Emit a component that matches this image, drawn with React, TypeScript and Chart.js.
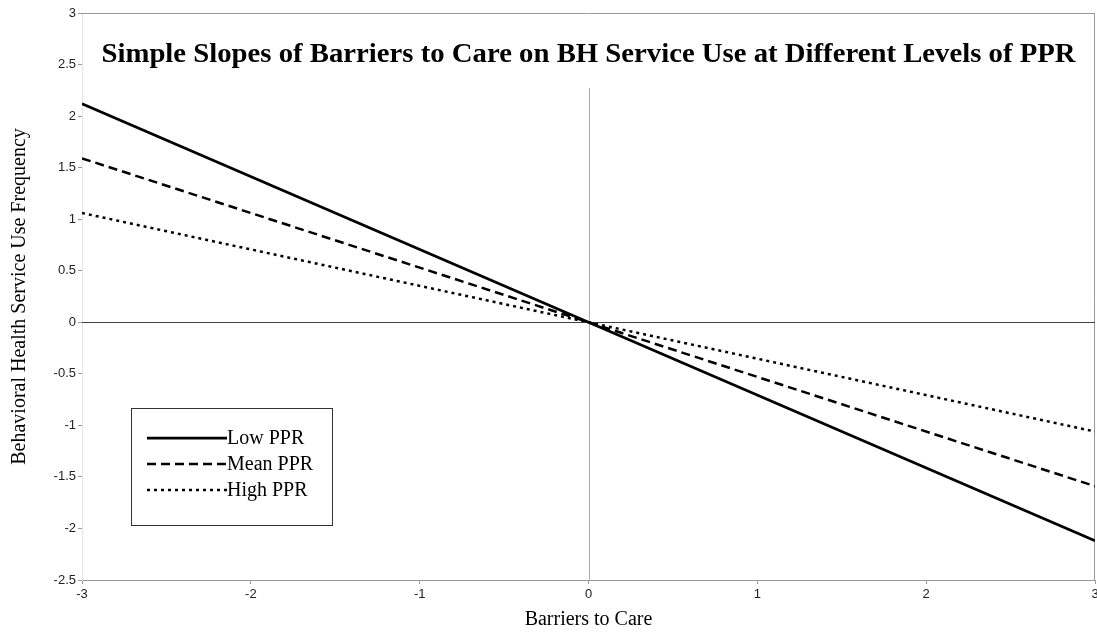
import React, { useEffect, useRef } from "react";
import { Chart, registerables } from "chart.js";

Chart.register(...registerables);

// ---- data ----
const barriersToCare = [-3, 0, 3];
const lowPPR = [2.12, 0, -2.12];
const meanPPR = [1.59, 0, -1.59];
const highPPR = [1.06, 0, -1.06];
const seriesLabels = ["Low PPR", "Mean PPR", "High PPR"];
const chartTitle =
  "Simple Slopes of Barriers to Care on BH Service Use at Different Levels of PPR";
const xAxisTitle = "Barriers to Care";
const yAxisTitle = "Behavioral Health Service Use Frequency";
const xRange = [-3, 3];
const yRange = [-2.5, 3];

const SERIF = '"Liberation Serif", "Times New Roman", serif';
const SANS = '"Liberation Sans", Arial, sans-serif';

const framePlugin = {
  id: "frameAndZero",
  beforeDatasetsDraw(chart: any) {
    const { ctx, chartArea, scales } = chart;
    const { left, right, top, bottom } = chartArea;
    ctx.save();
    ctx.lineWidth = 1;
    // top & right border
    ctx.strokeStyle = "#999";
    ctx.beginPath();
    ctx.moveTo(left, top + 0.5);
    ctx.lineTo(right, top + 0.5);
    ctx.moveTo(right - 0.5, top);
    ctx.lineTo(right - 0.5, bottom);
    ctx.stroke();
    // zero lines
    const y0 = Math.round(scales.y.getPixelForValue(0)) + 0.5;
    const x0 = Math.round(scales.x.getPixelForValue(0)) + 0.5;
    ctx.strokeStyle = "#aaa";
    ctx.beginPath();
    ctx.moveTo(x0, top + 75);
    ctx.lineTo(x0, bottom);
    ctx.stroke();
    ctx.strokeStyle = "#444";
    ctx.beginPath();
    ctx.moveTo(left, y0);
    ctx.lineTo(right, y0);
    ctx.stroke();
    ctx.restore();
  },
};

const titlePlugin = {
  id: "innerTitle",
  afterDraw(chart: any) {
    const { ctx, chartArea } = chart;
    ctx.save();
    ctx.font = `bold 27px ${SERIF}`;
    ctx.fillStyle = "#000";
    ctx.textAlign = "center";
    ctx.textBaseline = "middle";
    const w = ctx.measureText(chartTitle).width;
    const target = 974;
    const sx = target / w;
    const cx = (chartArea.left + chartArea.right) / 2;
    ctx.translate(cx, chartArea.top + 42);
    ctx.scale(sx, 1);
    ctx.fillText(chartTitle, 0, 0);
    ctx.restore();
  },
};

const legendPlugin = {
  id: "boxLegend",
  afterDatasetsDraw(chart: any) {
    const { ctx, chartArea } = chart;
    const bx = chartArea.left + 49;
    const by = chartArea.top + 395;
    const bw = 201;
    const bh = 117;
    ctx.save();
    ctx.fillStyle = "#fff";
    ctx.fillRect(bx, by, bw, bh);
    ctx.strokeStyle = "#333";
    ctx.lineWidth = 1;
    ctx.strokeRect(bx + 0.5, by + 0.5, bw, bh);
    chart.data.datasets.forEach((ds: any, i: number) => {
      const ly = by + 30 + i * 26;
      ctx.save();
      ctx.strokeStyle = ds.borderColor;
      ctx.lineWidth = ds.borderWidth;
      ctx.setLineDash(ds.borderDash || []);
      ctx.beginPath();
      ctx.moveTo(bx + 16, ly);
      ctx.lineTo(bx + 96, ly);
      ctx.stroke();
      ctx.restore();
      ctx.fillStyle = "#000";
      ctx.font = `20px ${SERIF}`;
      ctx.textAlign = "left";
      ctx.textBaseline = "middle";
      ctx.fillText(ds.label, bx + 96, ly + 1);
    });
    ctx.restore();
  },
};

function toPoints(ys: number[]) {
  return barriersToCare.map((x, i) => ({ x, y: ys[i] }));
}

export default function App() {
  const ref = useRef<HTMLCanvasElement | null>(null);
  useEffect(() => {
    if (!ref.current) return;
    const chart = new Chart(ref.current, {
      type: "scatter",
      data: {
        datasets: [
          {
            label: seriesLabels[0],
            data: toPoints(lowPPR),
            showLine: true,
            borderColor: "#000",
            borderWidth: 2.75,
            pointRadius: 0,
          },
          {
            label: seriesLabels[1],
            data: toPoints(meanPPR),
            showLine: true,
            borderColor: "#000",
            borderWidth: 2.5,
            borderDash: [9, 5],
            pointRadius: 0,
          },
          {
            label: seriesLabels[2],
            data: toPoints(highPPR),
            showLine: true,
            borderColor: "#000",
            borderWidth: 2.5,
            borderDash: [3, 4],
            pointRadius: 0,
          },
        ] as any,
      },
      options: {
        animation: false,
        responsive: false,
        devicePixelRatio: 1,
        layout: { padding: { top: 13, right: 2, left: 0, bottom: 0 } },
        plugins: {
          legend: { display: false },
          title: { display: false },
          tooltip: { enabled: false },
        },
        scales: {
          x: {
            type: "linear",
            min: xRange[0],
            max: xRange[1],
            ticks: {
              stepSize: 1,
              color: "#222",
              font: { family: SANS, size: 13 },
              padding: 3,
              maxRotation: 0,
              callback: (v: number) => String(v),
            },
            grid: {
              drawOnChartArea: false,
              drawTicks: true,
              tickLength: 4,
              color: "#999",
            },
            border: { color: "#999" },
            title: {
              display: true,
              text: xAxisTitle,
              color: "#000",
              font: { family: SERIF, size: 20 },
              padding: { top: 4, bottom: 1 },
            },
            afterFit(s: any) {
              s.height = 53;
              s.paddingLeft = 0;
              s.paddingRight = 0;
            },
          },
          y: {
            type: "linear",
            min: yRange[0],
            max: yRange[1],
            ticks: {
              stepSize: 0.5,
              color: "#222",
              font: { family: SANS, size: 13 },
              padding: 2,
              callback: (v: number) => String(v),
            },
            grid: {
              drawOnChartArea: false,
              drawTicks: true,
              tickLength: 4,
              color: "#999",
            },
            border: { color: "#e4e4e4" },
            title: {
              display: true,
              text: yAxisTitle,
              color: "#000",
              font: { family: SERIF, size: 20 },
              padding: { top: 8, bottom: 4 },
            },
            afterFit(s: any) {
              s.width = 82;
              s.paddingTop = 0;
              s.paddingBottom = 0;
            },
          },
        },
      } as any,
      plugins: [framePlugin, titlePlugin, legendPlugin],
    });
    return () => chart.destroy();
  }, []);
  return (
    <div
      style={{
        position: "fixed",
        left: 0,
        top: 0,
        width: 1097,
        height: 633,
        background: "#fff",
      }}
    >
      <canvas ref={ref} width={1097} height={633} style={{ display: "block" }} />
    </div>
  );
}
